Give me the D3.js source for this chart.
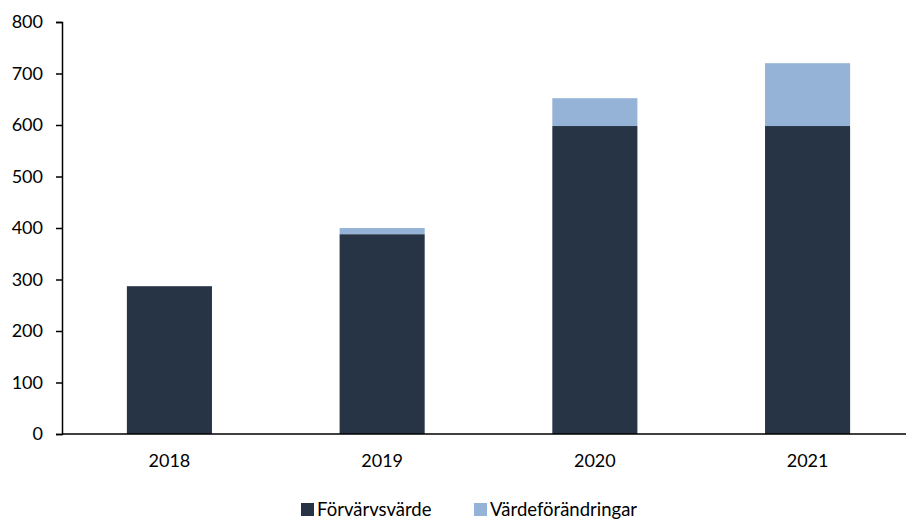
<!DOCTYPE html>
<html>
<head>
<meta charset="utf-8">
<script src="https://cdn.jsdelivr.net/npm/d3@7"></script>
<style>
  body { margin: 0; background: #fff; }
  text { font-family: Lato, "Open Sans", sans-serif; fill: #000; }
</style>
</head>
<body>
<svg id="chart" width="908" height="519"></svg>
<script>
var years = ["2018", "2019", "2020", "2021"];
var forvarv = [287, 388, 598, 598];
var vardeforandring = [0, 12, 54, 122];
var seriesNames = ["Förvärvsvärde", "Värdeförändringar"];
var colors = ["#263445", "#95b3d7"];
var yTicks = [0, 100, 200, 300, 400, 500, 600, 700, 800];

var svg = d3.select("#chart"),
    margin = {top: 22, right: 2, bottom: 85, left: 62},
    width = +svg.attr("width") - margin.left - margin.right,
    height = +svg.attr("height") - margin.top - margin.bottom;

var g = svg.append("g").attr("transform", "translate(" + margin.left + "," + margin.top + ")");

// band range runs a bit past the axis line, as in the original layout
var x = d3.scaleBand().domain(years).range([0, 853]).paddingInner(0.6).paddingOuter(0.305);
var y = d3.scaleLinear().domain([0, 800]).range([height, 0]);

var rows = years.map(function(yr, i) {
    return {year: yr, "Förvärvsvärde": forvarv[i], "Värdeförändringar": vardeforandring[i]};
});
var stacked = d3.stack().keys(seriesNames)(rows);

g.selectAll("g.series")
    .data(stacked)
    .enter().append("g")
    .attr("class", "series")
    .attr("fill", function(d, i) { return colors[i]; })
    .selectAll("rect")
    .data(function(d) { return d; })
    .enter().append("rect")
    .attr("x", function(d) { return x(d.data.year); })
    .attr("width", x.bandwidth())
    .attr("y", function(d) { return y(d[1]); })
    .attr("height", function(d) { return y(d[0]) - y(d[1]); });

// y axis
var yAxis = g.append("g")
    .call(d3.axisLeft(y).tickValues(yTicks).tickSize(6).tickPadding(13));
yAxis.select(".domain").attr("stroke", "#000").attr("stroke-width", 1.5);
yAxis.selectAll(".tick line").attr("stroke", "#000").attr("stroke-width", 1.5);
yAxis.selectAll("text").style("font-size", "18px");

// x axis
var xAxis = g.append("g")
    .attr("transform", "translate(0," + height + ")")
    .call(d3.axisBottom(x).tickSize(0).tickPadding(20));
xAxis.select(".domain").attr("d", "M0,0H" + width).attr("stroke", "#000").attr("stroke-width", 1.5);
xAxis.selectAll("text").style("font-size", "18px");

// legend
var legend = svg.append("g").attr("transform", "translate(301,516)");
var legX = [0, 173];
seriesNames.forEach(function(name, i) {
    var item = legend.append("g").attr("transform", "translate(" + legX[i] + ",0)");
    item.append("rect").attr("x", 0).attr("y", -13).attr("width", 13).attr("height", 13).attr("fill", colors[i]);
    item.append("text").attr("x", 16).attr("y", 0).style("font-size", "18.5px").text(name);
});
</script>
</body>
</html>
